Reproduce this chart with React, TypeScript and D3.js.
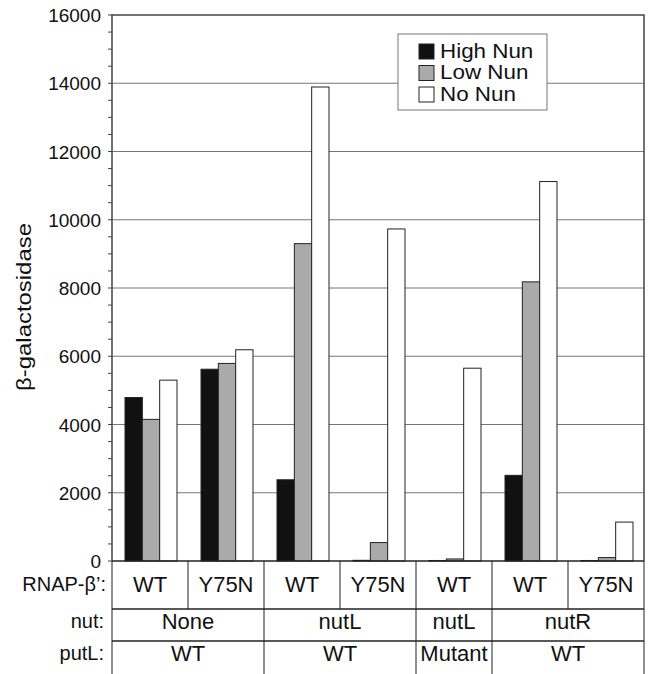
import React from 'react';
import * as d3 from 'd3';

const rnapLabels = ["WT", "Y75N", "WT", "Y75N", "WT", "WT", "Y75N"];
const highNun = [4790, 5620, 2380, 20, 15, 2510, 15];
const lowNun = [4150, 5790, 9300, 540, 60, 8180, 100];
const noNun = [5300, 6190, 13890, 9730, 5650, 11120, 1140];
const seriesNames = ["High Nun", "Low Nun", "No Nun"];
const seriesFills = ["#111111", "#aaaaaa", "#ffffff"];
const nutLabels = ["None", "nutL", "nutL", "nutR"];
const putLLabels = ["WT", "WT", "Mutant", "WT"];
const groupSpans = [2, 2, 1, 2];
const yTicks = [0, 2000, 4000, 6000, 8000, 10000, 12000, 14000, 16000];

const FONT = "'Liberation Sans', Arial, sans-serif";

export default function App() {
  const width = 649, height = 674;
  const left = 112, right = 644, top = 15, base = 561;
  const row1 = 609, row2 = 641;

  const x = d3.scaleBand<number>()
    .domain(d3.range(rnapLabels.length))
    .range([left, right]);
  const xs = d3.scaleBand<number>()
    .domain([0, 1, 2])
    .range([13, 65]);
  const y = d3.scaleLinear().domain([0, 16000]).range([base, top]);

  const series = [highNun, lowNun, noNun];
  const minor = d3.range(0, 16001, 500);

  // group boundaries from spans
  let acc = 0;
  const groups = groupSpans.map((s, i) => {
    const g = { start: acc, end: acc + s, nut: nutLabels[i], put: putLLabels[i] };
    acc += s;
    return g;
  });
  const bx = (i) => (i >= rnapLabels.length ? right : x(i));

  return (
    <svg width={width} height={height} style={{ position: 'absolute', left: 0, top: 0, background: '#fff' }}
      fontFamily={FONT}>
      <rect x={0} y={0} width={width} height={height} fill="#fff" />
      {/* gridlines */}
      {yTicks.slice(1, -1).map(t => (
        <line key={"g" + t} x1={left} x2={right} y1={y(t)} y2={y(t)} stroke="#777" strokeWidth={1} />
      ))}
      {/* bars */}
      {series.map((vals, si) => vals.map((v, ci) => (
        <rect key={si + "-" + ci}
          x={x(ci) + xs(si)} width={xs.bandwidth()}
          y={y(v)} height={base - y(v)}
          fill={seriesFills[si]} stroke="#222" strokeWidth={1} />
      )))}
      {/* plot frame */}
      <path d={`M${left},${base}V${top}H${right}V${base}`} fill="none" stroke="#444" strokeWidth={1.5} />
      {/* ticks */}
      {minor.map(t => (
        <line key={"m" + t} x1={left - 4} x2={left} y1={y(t)} y2={y(t)} stroke="#444" strokeWidth={1} />
      ))}
      {yTicks.map(t => (
        <text key={"t" + t} x={101} y={y(t) + 2} textAnchor="end" dominantBaseline="middle"
          fontSize={19} fill="#111">{t}</text>
      ))}
      <text transform={`translate(25,${307}) rotate(-90)`} textAnchor="middle" dominantBaseline="middle"
        fontSize={21} textLength={168} lengthAdjust="spacingAndGlyphs" fill="#111">β-galactosidase</text>

      {/* legend */}
      <g transform="translate(398,34)">
        <rect x={0} y={0} width={149} height={76} fill="#fff" stroke="#777" strokeWidth={1} />
        {seriesNames.map((n, i) => (
          <g key={n} transform={`translate(21,${10 + i * 21.5})`}>
            <rect x={0} y={0} width={15} height={15} fill={seriesFills[i]} stroke="#222" strokeWidth={1} />
            <text transform="translate(21,8.5) scale(1.12,1)" dominantBaseline="middle" fontSize={20}
              fill="#111">{n}</text>
          </g>
        ))}
      </g>

      {/* table */}
      <line x1={left} x2={right} y1={base} y2={base} stroke="#222" strokeWidth={1.5} />
      <line x1={left} x2={right} y1={row1} y2={row1} stroke="#222" strokeWidth={1.5} />
      <line x1={left} x2={right} y1={row2} y2={row2} stroke="#222" strokeWidth={1.5} />
      {d3.range(rnapLabels.length + 1).map(i => (
        <line key={"v" + i} x1={bx(i)} x2={bx(i)} y1={base} y2={row1} stroke="#222" strokeWidth={1} />
      ))}
      {groups.map((g, i) => (
        <line key={"gv" + i} x1={bx(g.start)} x2={bx(g.start)} y1={row1} y2={height} stroke="#222" strokeWidth={1} />
      ))}
      <line x1={right} x2={right} y1={row1} y2={height} stroke="#222" strokeWidth={1} />
      {rnapLabels.map((l, i) => (
        <text key={"r" + i} x={x(i) + x.bandwidth() / 2} y={586} textAnchor="middle" dominantBaseline="middle"
          fontSize={22} fill="#111">{l}</text>
      ))}
      {groups.map((g, i) => (
        <text key={"n" + i} x={(bx(g.start) + bx(g.end)) / 2} y={623} textAnchor="middle" dominantBaseline="middle"
          fontSize={22} fill="#111">{g.nut}</text>
      ))}
      {groups.map((g, i) => (
        <text key={"p" + i} x={(bx(g.start) + bx(g.end)) / 2} y={655} textAnchor="middle" dominantBaseline="middle"
          fontSize={22} fill="#111">{g.put}</text>
      ))}
      <text x={106} y={586} textAnchor="end" dominantBaseline="middle" fontSize={20} fill="#111">RNAP-β’:</text>
      <text x={104} y={623} textAnchor="end" dominantBaseline="middle" fontSize={20} fill="#111">nut:</text>
      <text x={104} y={655} textAnchor="end" dominantBaseline="middle" fontSize={20} fill="#111">putL:</text>
    </svg>
  );
}
